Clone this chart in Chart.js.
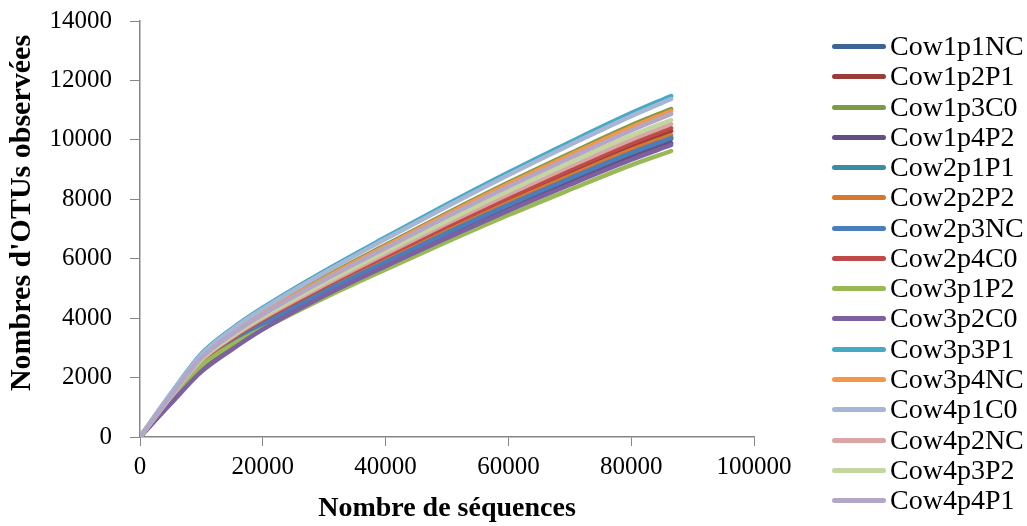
<!DOCTYPE html>
<html><head><meta charset="utf-8">
<script src="https://cdn.jsdelivr.net/npm/chart.js@4.4.0/dist/chart.umd.min.js"></script>
<style>
html,body{margin:0;padding:0;background:#fff;}
#wrap{position:relative;width:1027px;height:526px;overflow:hidden;background:#fff;}
#c{position:absolute;left:0;top:0;}
.item{position:absolute;left:832px;height:30px;font-family:'Liberation Serif','Times New Roman',serif;font-size:28px;color:#000;white-space:nowrap;}
.sw{position:absolute;left:0;top:13px;width:54px;height:5px;border-radius:3px;}
.lbl{position:absolute;left:58px;top:0;line-height:30px;}
</style></head>
<body>
<div id="wrap"><canvas id="c" width="1027" height="526"></canvas><div id="legend"></div></div>
<script>
// Sequencing depths (x values)
const depths = [0, 5000, 10000, 15000, 20000, 30000, 40000, 50000, 60000, 70000, 80000, 86500];
// Observed OTUs per sample
const cow1p1NC = [0, 1290, 2480, 3210, 3800, 4880, 5870, 6840, 7780, 8670, 9530, 10030];
const cow1p2P1 = [0, 1320, 2540, 3290, 3910, 5010, 6030, 7020, 7980, 8900, 9780, 10298];
const cow1p3C0 = [0, 1390, 2690, 3510, 4180, 5370, 6460, 7530, 8560, 9540, 10490, 11038];
const cow1p4P2 = [0, 1180, 2300, 3050, 3700, 4800, 5790, 6750, 7670, 8550, 9400, 9894];
const cow2p1P1 = [0, 1300, 2500, 3230, 3830, 4910, 5910, 6890, 7830, 8730, 9590, 10097];
const cow2p2P2 = [0, 1310, 2510, 3250, 3860, 4940, 5950, 6940, 7890, 8790, 9660, 10164];
const cow2p3NC = [0, 1300, 2490, 3220, 3820, 4890, 5890, 6870, 7810, 8700, 9560, 10063];
const cow2p4C0 = [0, 1330, 2560, 3320, 3950, 5060, 6090, 7090, 8060, 8990, 9880, 10400];
const cow3p1P2 = [0, 1250, 2400, 3110, 3650, 4680, 5640, 6570, 7470, 8320, 9150, 9625];
const cow3p2C0 = [0, 1120, 2200, 2950, 3620, 4750, 5750, 6700, 7620, 8490, 9330, 9827];
const cow3p3P1 = [0, 1450, 2800, 3650, 4350, 5580, 6720, 7830, 8900, 9920, 10900, 11476];
const cow3p4NC = [0, 1390, 2680, 3490, 4160, 5330, 6420, 7490, 8510, 9480, 10420, 10971];
const cow4p1C0 = [0, 1440, 2770, 3620, 4310, 5530, 6660, 7760, 8820, 9830, 10800, 11375];
const cow4p2NC = [0, 1350, 2590, 3360, 4000, 5120, 6170, 7190, 8170, 9110, 10010, 10534];
const cow4p3P2 = [0, 1360, 2620, 3400, 4050, 5190, 6250, 7280, 8280, 9230, 10140, 10668];
const cow4p4P1 = [0, 1380, 2660, 3460, 4120, 5280, 6360, 7420, 8430, 9390, 10320, 10870];

const seriesNames = ['Cow1p1NC','Cow1p2P1','Cow1p3C0','Cow1p4P2','Cow2p1P1','Cow2p2P2','Cow2p3NC','Cow2p4C0',
                     'Cow3p1P2','Cow3p2C0','Cow3p3P1','Cow3p4NC','Cow4p1C0','Cow4p2NC','Cow4p3P2','Cow4p4P1'];
const seriesValues = [cow1p1NC,cow1p2P1,cow1p3C0,cow1p4P2,cow2p1P1,cow2p2P2,cow2p3NC,cow2p4C0,
                      cow3p1P2,cow3p2C0,cow3p3P1,cow3p4NC,cow4p1C0,cow4p2NC,cow4p3P2,cow4p4P1];
const seriesColors = ['#3C6494','#9B3C39','#7E9A47','#664E84','#3A8DA3','#D4792E','#4A7EBB','#BE4B48',
                      '#98B954','#7D60A0','#46AAC5','#F79646','#A6B7D6','#D9A6A5','#C3D69F','#B3A6C7'];
const xTicks = [0, 20000, 40000, 60000, 80000, 100000];
const yTicks = [0, 2000, 4000, 6000, 8000, 10000, 12000, 14000];

const FONT = "'Liberation Serif','Times New Roman',serif";
const AXIS = '#868686';

const datasets = seriesNames.map((name, i) => ({
  label: name,
  data: depths.map((d, k) => ({x: d, y: seriesValues[i][k]})),
  borderColor: seriesColors[i],
  backgroundColor: seriesColors[i],
  borderWidth: 4.5,
  borderCapStyle: 'round',
  borderJoinStyle: 'round',
  pointRadius: 0,
  cubicInterpolationMode: 'monotone',
  fill: false,
  order: seriesNames.length - 1 - i
}));

const yTitlePlugin = {
  id: 'yTitle',
  afterDraw(chart) {
    const ctx = chart.ctx;
    ctx.save();
    ctx.translate(22, 213);
    ctx.rotate(-Math.PI / 2);
    ctx.font = "bold 30px " + FONT;
    ctx.fillStyle = '#000';
    ctx.textAlign = 'center';
    ctx.textBaseline = 'middle';
    ctx.fillText("Nombres d'OTUs observées", 0, 0);
    ctx.restore();
  }
};

new Chart(document.getElementById('c'), {
  type: 'line',
  data: { datasets },
  options: {
    responsive: false,
    devicePixelRatio: 1,
    animation: false,
    layout: { padding: { left: 0, top: 21, right: 273, bottom: 0 } },
    plugins: { legend: { display: false }, tooltip: { enabled: false } },
    scales: {
      x: {
        type: 'linear',
        min: 0, max: 100000,
        afterBuildTicks(scale) { scale.ticks = xTicks.map(v => ({value: v})); },
        afterFit(scale) { scale.height = 89; },
        ticks: { color: '#000', font: { family: FONT, size: 25 }, padding: 6, maxRotation: 0, callback: v => String(v) },
        grid: { display: true, drawOnChartArea: false, drawTicks: true, tickLength: 9, color: AXIS, lineWidth: 1 },
        border: { color: AXIS, width: 1.5 },
        title: { display: true, text: 'Nombre de séquences', color: '#000', font: { family: FONT, size: 28, weight: 'bold' }, padding: { top: 0, bottom: 0 } }
      },
      y: {
        type: 'linear',
        min: 0, max: 14000,
        afterBuildTicks(scale) { scale.ticks = yTicks.map(v => ({value: v})); },
        afterFit(scale) { scale.width = 140; scale.paddingTop = 0; scale.paddingBottom = 0; },
        ticks: { color: '#000', font: { family: FONT, size: 25 }, padding: 18, callback: v => String(v) },
        grid: { display: true, drawOnChartArea: false, drawTicks: true, tickLength: 10, color: AXIS, lineWidth: 1 },
        border: { color: AXIS, width: 1.5 },
        title: { display: false }
      }
    }
  },
  plugins: [yTitlePlugin]
});

// Legend
const legend = document.getElementById('legend');
seriesNames.forEach((name, i) => {
  const item = document.createElement('div');
  item.className = 'item';
  item.style.top = (46 + i * 30.27 - 15) + 'px';
  const sw = document.createElement('div');
  sw.className = 'sw';
  sw.style.background = seriesColors[i];
  const lbl = document.createElement('div');
  lbl.className = 'lbl';
  lbl.textContent = name;
  item.appendChild(sw); item.appendChild(lbl);
  legend.appendChild(item);
});
</script>
</body></html>
